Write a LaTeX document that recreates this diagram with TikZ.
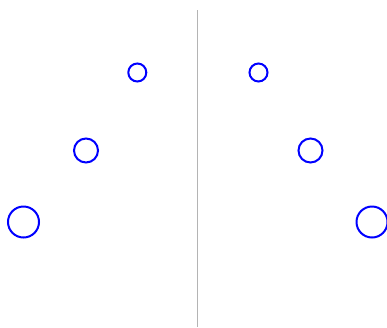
\documentclass[tikz,border=0pt]{standalone}
\begin{document}
\begin{tikzpicture}[x=1pt,y=-1pt,
  ring/.style={circle,draw=blue,line width=2pt,inner sep=0pt,minimum size=#1},
  divider/.style={draw={rgb,255:red,180;green,180;blue,180},line width=1.3pt}]
\useasboundingbox (0,0) rectangle (387,327);
\coordinate (top) at (197.5,10);
\coordinate (bot) at (197.5,327);
\draw[divider] (top) -- (bot);
\node[ring=18pt] (l1) at (137.3,72.5) {};
\node[ring=24pt] (l2) at (86,150.5) {};
\node[ring=31pt] (l3) at (23.5,222) {};
\node[ring=18pt] (r1) at (258.5,72.5) {};
\node[ring=24pt] (r2) at (310.5,150.5) {};
\node[ring=31pt] (r3) at (372,222) {};
\end{tikzpicture}
\end{document}
